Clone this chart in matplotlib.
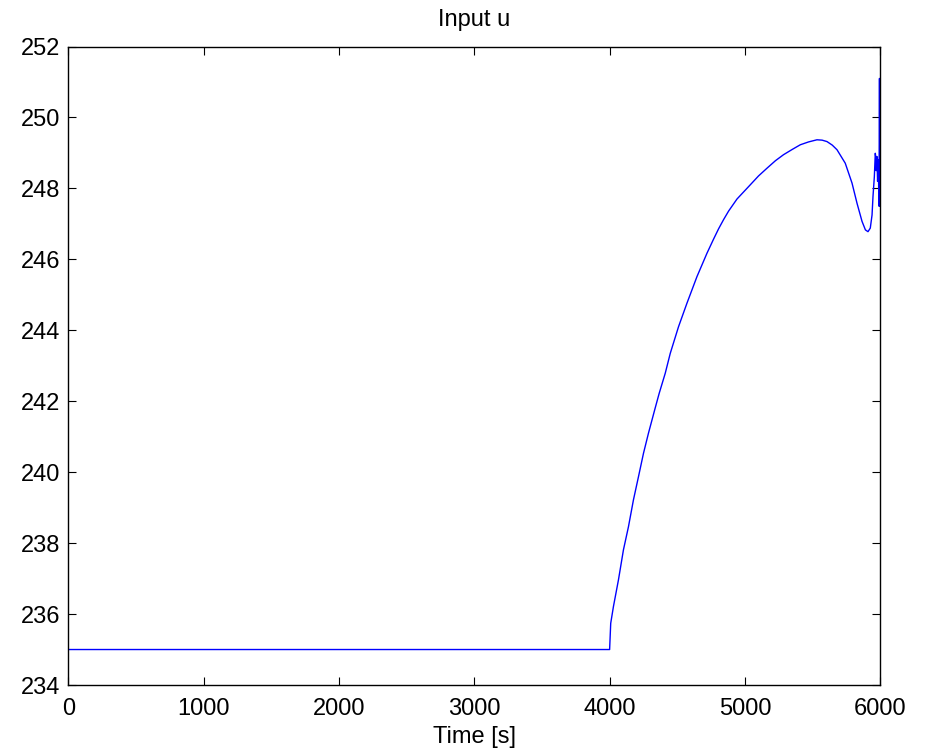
import matplotlib
matplotlib.use("Agg")
import matplotlib.pyplot as plt

plt.rcParams['font.family'] = ['Liberation Sans', 'DejaVu Sans']

# Data
time_s = [0, 4000, 4000, 4008, 4028, 4065, 4102, 4139, 4176, 4213, 4250, 4287,
          4336, 4366, 4411, 4448, 4509, 4571, 4645, 4719, 4768, 4805, 4842,
          4879, 4941, 5039, 5100, 5163, 5225, 5285, 5350, 5409, 5470, 5532,
          5570, 5606, 5645, 5680, 5741, 5791, 5828, 5865, 5890, 5909, 5926,
          5939, 5946, 5956, 5963, 5966, 5970, 5975, 5980, 5985, 5990, 5994,
          5997, 6000]
input_u = [235.0, 235.0, 235.01, 235.74, 236.21, 236.96, 237.81, 238.46,
           239.22, 239.87, 240.53, 241.10, 241.80, 242.22, 242.79, 243.35,
           244.10, 244.76, 245.51, 246.17, 246.57, 246.86, 247.12, 247.36,
           247.70, 248.10, 248.35, 248.57, 248.78, 248.95, 249.10, 249.23,
           249.31, 249.37, 249.36, 249.32, 249.22, 249.09, 248.71, 248.15,
           247.58, 247.07, 246.83, 246.78, 246.88, 247.25, 247.77, 248.33,
           248.99, 248.9, 248.5, 248.9, 248.2, 248.8, 247.5, 251.1, 247.5,
           249.0]

x_ticks = [0, 1000, 2000, 3000, 4000, 5000, 6000]
y_ticks = [234, 236, 238, 240, 242, 244, 246, 248, 250, 252]

fig = plt.figure(figsize=(9.26, 7.53), dpi=100)
ax = fig.add_axes([68.3 / 926, (753 - 685) / 753, (880.3 - 68.3) / 926, (685 - 46.5) / 753])
ax.plot(time_s, input_u, color=(0, 0, 1), linewidth=1.0)
ax.set_xlim(0, 6000)
ax.set_ylim(234, 252)
ax.set_xticks(x_ticks)
ax.set_yticks(y_ticks)
ax.tick_params(direction='in', top=True, right=True, length=6, width=0.8,
               labelsize=17)
ax.tick_params(axis='x', pad=9.5)
ax.tick_params(axis='y', pad=5.5)
for s in ax.spines.values():
    s.set_linewidth(1.0)
ax.set_title('Input u', fontsize=17, pad=14.5)
ax.set_xlabel('Time [s]', fontsize=17, labelpad=4)
fig.savefig('out.png', dpi=100, facecolor='white')
